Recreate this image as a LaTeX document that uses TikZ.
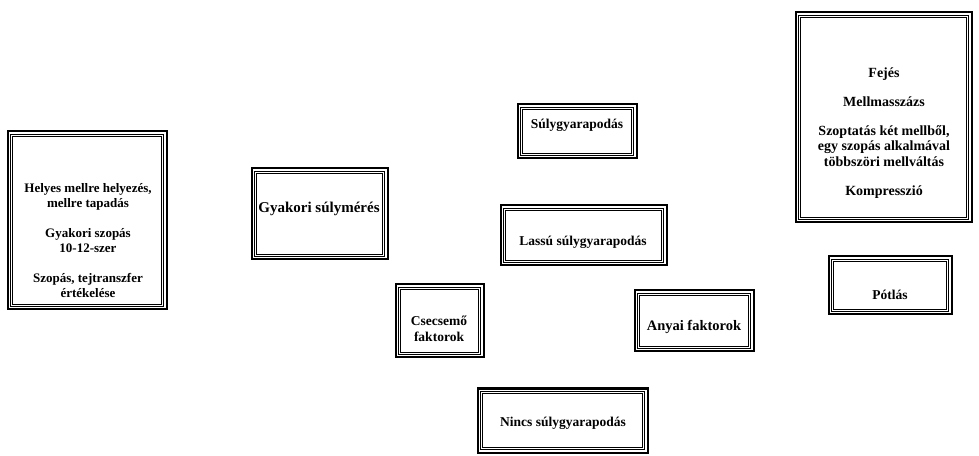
\documentclass[tikz,border=0pt]{standalone}
\usepackage{fontspec}
\setmainfont{Liberation Serif}
\begin{document}
\begin{tikzpicture}[x=1pt,y=1pt,
  box/.style={draw=black,line width=2pt,fill=white,inner sep=0pt,outer sep=0pt},
  txt/.style={font=\fontsize{#1}{15.5}\selectfont\bfseries,align=center,inner sep=0pt},
  txt/.default=13.5]
\useasboundingbox (0,0) rectangle (979,455);
% boxes (centre, width, height)
\node[box,minimum width=159pt,minimum height=178pt] (bL) at (87,234.5) {};
\node[box,minimum width=136pt,minimum height=91pt] (bG) at (319.5,241) {};
\node[box,minimum width=119pt,minimum height=54pt] (bS) at (577,323.5) {};
\node[box,minimum width=166pt,minimum height=60pt] (bLa) at (583.5,219.5) {};
\node[box,minimum width=88pt,minimum height=73pt] (bCs) at (439.5,134) {};
\node[box,minimum width=119pt,minimum height=61pt] (bA) at (694,134) {};
\node[box,minimum width=170pt,minimum height=64pt] (bN) at (562.5,34.5) {};
\node[box,minimum width=176pt,minimum height=210pt] (bR) at (883.5,337.5) {};
\node[box,minimum width=123pt,minimum height=58pt] (bP) at (890,169.5) {};
\foreach \n in {bL,bG,bS,bLa,bCs,bA,bN,bR,bP}{
  \draw[line width=0.9pt] ([shift={(2.6,-2.6)}]\n.north west) rectangle ([shift={(-2.6,2.6)}]\n.south east);
  \draw[line width=0.9pt] ([shift={(4.6,-4.6)}]\n.north west) rectangle ([shift={(-4.6,4.6)}]\n.south east);
}
% texts
\node[txt=13] (tL) at (88,214.5) {Helyes mellre helyezés,\\mellre tapadás\\[14pt]Gyakori szopás\\10-12-szer\\[14pt]Szopás, tejtranszfer\\értékelése};
\node[txt=15] (tG) at (319,246) {Gyakori súlymérés};
\node[txt=13.5] (tS) at (577,330) {Súlygyarapodás};
\node[txt=13.5] (tLa) at (583,213) {Lassú súlygyarapodás};
\node[txt=13.5] (tCs) at (439,126) {Csecsemő\\faktorok};
\node[txt=14.5] (tA) at (694,128) {Anyai faktorok};
\node[txt=13.5] (tN) at (563,32) {Nincs súlygyarapodás};
\node[txt=14] (tR) at (884,322) {Fejés\\[13.5pt]Mellmasszázs\\[13.5pt]Szoptatás két mellből,\\egy szopás alkalmával\\többszöri mellváltás\\[13.5pt]Kompresszió};
\node[txt=13.5] (tP) at (890,160) {Pótlás};
\end{tikzpicture}
\end{document}
